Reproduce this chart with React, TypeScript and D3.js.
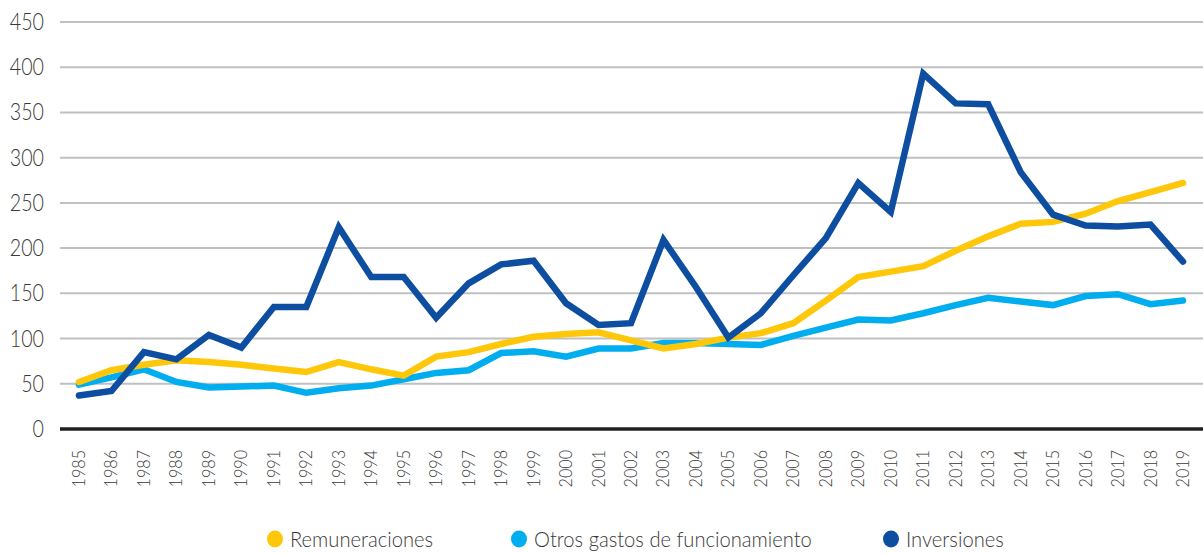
import { useEffect, useRef } from 'react';
import * as d3 from 'd3';

const years = d3.range(1985, 2020).map(String);

const remuneraciones = [
  52, 65, 71, 76, 74, 71, 67, 63, 74, 66, 59, 80, 85, 94, 102, 105, 107, 98, 89, 94,
  101, 106, 117, 142, 168, 174, 180, 197, 213, 227, 229, 238, 252, 262, 272,
];

const otrosGastos = [
  49, 57, 66, 52, 46, 47, 48, 40, 45, 48, 55, 62, 65, 84, 86, 80, 89, 89, 95, 95,
  94, 93, 103, 112, 121, 120, 128, 137, 145, 141, 137, 147, 149, 138, 142,
];

const inversiones = [
  37, 42, 85, 77, 104, 90, 135, 135, 223, 168, 168, 123, 161, 182, 186, 139, 115, 117, 209, 157,
  101, 128, 170, 211, 272, 240, 393, 360, 359, 284, 237, 225, 224, 226, 185,
];

const yTicks = [0, 50, 100, 150, 200, 250, 300, 350, 400, 450];

const seriesNames = ['Remuneraciones', 'Otros gastos de funcionamiento', 'Inversiones'];
const seriesColors = ['#ffc709', '#00aeef', '#0d4ea1'];

const App = () => {
  const svgRef = useRef<SVGSVGElement>(null);

  useEffect(() => {
    if (!svgRef.current) return;
    const svg = d3.select(svgRef.current);
    svg.selectAll('*').remove();

    const font = 'Lato, "Open Sans", sans-serif';
    const textColor = '#3a3a3a';

    const x = d3.scalePoint<string>().domain(years).range([79, 1183]);
    const y = d3.scaleLinear().domain([0, 450]).range([429, 22]);

    // gridlines
    svg
      .append('g')
      .selectAll('line')
      .data(yTicks.filter((t) => t > 0))
      .enter()
      .append('line')
      .attr('x1', 60)
      .attr('x2', 1203)
      .attr('y1', (d) => y(d))
      .attr('y2', (d) => y(d))
      .attr('stroke', '#bfc0c2')
      .attr('stroke-width', 2);

    // y tick labels
    svg
      .append('g')
      .selectAll('text')
      .data(yTicks)
      .enter()
      .append('text')
      .attr('transform', (d) => `translate(44,${y(d) + 8}) scale(0.82,1)`)
      .attr('text-anchor', 'end')
      .attr('font-family', font)
      .attr('font-weight', 300)
      .attr('font-size', 24)
      .attr('fill', textColor)
      .text((d) => d);

    // lines
    const line = d3
      .line<number>()
      .x((_, i) => x(years[i]) ?? 0)
      .y((d) => y(d));

    const allSeries = [remuneraciones, otrosGastos, inversiones];
    [1, 0, 2].forEach((k) => {
      svg
        .append('path')
        .datum(allSeries[k])
        .attr('d', line)
        .attr('fill', 'none')
        .attr('stroke', seriesColors[k])
        .attr('stroke-width', 6.5)
        .attr('stroke-linecap', 'round')
        .attr('stroke-linejoin', 'miter');
    });

    // zero axis
    svg
      .append('line')
      .attr('x1', 60)
      .attr('x2', 1203)
      .attr('y1', y(0))
      .attr('y2', y(0))
      .attr('stroke', '#231f20')
      .attr('stroke-width', 3.5);

    // x tick labels
    svg
      .append('g')
      .selectAll('text')
      .data(years)
      .enter()
      .append('text')
      .attr('transform', (d) => `translate(${(x(d) ?? 0) + 6},450) rotate(-90) scale(0.95,1)`)
      .attr('text-anchor', 'end')
      .attr('font-family', font)
      .attr('font-weight', 300)
      .attr('font-size', 17)
      .attr('fill', textColor)
      .text((d) => d);

    // legend
    const legendX = [275, 519, 891];
    const legend = svg
      .append('g')
      .selectAll('g')
      .data(seriesNames)
      .enter()
      .append('g')
      .attr('transform', (_, i) => `translate(${legendX[i]},539)`);
    legend
      .append('ellipse')
      .attr('rx', 8)
      .attr('ry', 8.5)
      .attr('fill', (_, i) => seriesColors[i]);
    legend
      .append('text')
      .attr('transform', 'translate(15,8) scale(0.96,1)')
      .attr('font-family', font)
      .attr('font-weight', 300)
      .attr('font-size', 21)
      .attr('fill', textColor)
      .text((d) => d);
  }, []);

  return (
    <svg
      ref={svgRef}
      width={1203}
      height={554}
      style={{ position: 'absolute', left: 0, top: 0, background: '#fff' }}
    />
  );
};

export default App;
